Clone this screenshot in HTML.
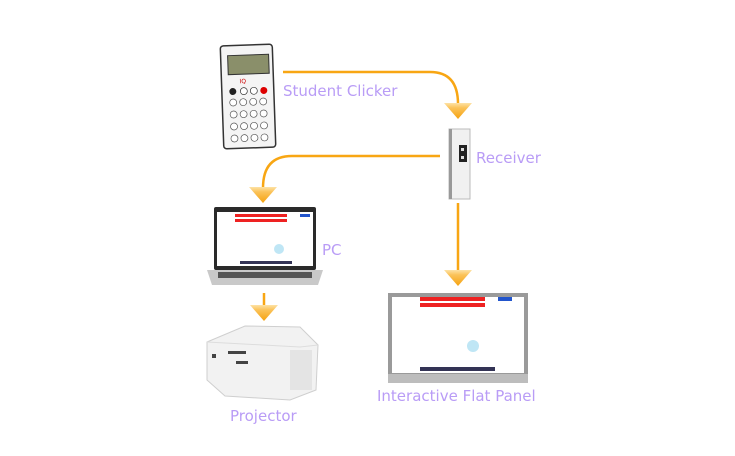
<!DOCTYPE html>
<html><head><meta charset="utf-8"><style>
html,body{margin:0;padding:0;background:#fff;}
svg{display:block}
text{font-family:"DejaVu Sans","Liberation Sans",sans-serif;fill:#b99cf6;font-size:15px;}
</style></head><body>
<svg width="735" height="456" viewBox="0 0 735 456" xmlns="http://www.w3.org/2000/svg">
<defs>
<linearGradient id="ah" x1="0" y1="0" x2="0" y2="1">
<stop offset="0" stop-color="#fde2a6"/><stop offset="0.3" stop-color="#fbc35a"/><stop offset="1" stop-color="#f5a20f"/>
</linearGradient>
<symbol id="arr" viewBox="0 0 28 16"><polygon points="0,0 28,0 14,16" fill="url(#ah)"/></symbol>
</defs>
<g fill="none" stroke="#f8a613" stroke-width="2.5">
<path d="M283,72 H430 Q458,72 458,104"/>
<path d="M440,156 H292 Q263,156 263,188"/>
<path d="M264,293 V306"/>
<path d="M458,203 V272"/>
</g>
<use href="#arr" x="444" y="103" width="28" height="16"/>
<use href="#arr" x="249" y="187" width="28" height="16"/>
<use href="#arr" x="250" y="305" width="28" height="16"/>
<use href="#arr" x="444" y="270" width="28" height="16"/>
<g transform="rotate(-2 248 96)">
<rect x="222" y="45" width="52" height="103" rx="3" fill="#f4f4f4" stroke="#333" stroke-width="1.5"/>
<rect x="229" y="55" width="41" height="19" fill="#8a8f6a" stroke="#333"/>
<text x="240" y="83" style="font-size:6px;fill:#c00">IQ</text>
<circle cx="233" cy="91" r="3.5" fill="#222"/><circle cx="264" cy="91" r="3.5" fill="#d00"/>
<circle cx="244" cy="91" r="3.5" fill="#fff" stroke="#333" stroke-width=".7"/><circle cx="254" cy="91" r="3.5" fill="#fff" stroke="#333" stroke-width=".7"/>
<g fill="#fff" stroke="#555" stroke-width=".7">
<circle cx="233" cy="102" r="3.5"/><circle cx="243" cy="102" r="3.5"/><circle cx="253" cy="102" r="3.5"/><circle cx="263" cy="102" r="3.5"/>
<circle cx="233" cy="114" r="3.5"/><circle cx="243" cy="114" r="3.5"/><circle cx="253" cy="114" r="3.5"/><circle cx="263" cy="114" r="3.5"/>
<circle cx="233" cy="126" r="3.5"/><circle cx="243" cy="126" r="3.5"/><circle cx="253" cy="126" r="3.5"/><circle cx="263" cy="126" r="3.5"/>
<circle cx="233" cy="138" r="3.5"/><circle cx="243" cy="138" r="3.5"/><circle cx="253" cy="138" r="3.5"/><circle cx="263" cy="138" r="3.5"/>
</g></g>
<rect x="449" y="129" width="21" height="70" fill="#f1f1f1" stroke="#bbb"/>
<rect x="449" y="129" width="3" height="70" fill="#999"/>
<rect x="459" y="145" width="8" height="17" fill="#222"/>
<rect x="461" y="148" width="3" height="3" fill="#ddd"/><rect x="461" y="156" width="3" height="3" fill="#ddd"/>
<rect x="214" y="207" width="102" height="63" rx="2" fill="#2a2a2a"/>
<rect x="217" y="212" width="96" height="54" fill="#fff"/>
<rect x="235" y="214" width="52" height="3" fill="#e22"/><rect x="235" y="219" width="52" height="3" fill="#e22"/>
<rect x="300" y="214" width="10" height="3" fill="#2255cc"/>
<circle cx="279" cy="249" r="5" fill="#bfe6f5"/>
<rect x="240" y="261" width="52" height="3" fill="#335"/>
<path d="M207,270 H323 L318,285 H212 Z" fill="#c9c9c9"/>
<rect x="218" y="272" width="94" height="6" fill="#555"/>
<path d="M207,342 L245,326 L300,327 L318,345 L316,390 L290,400 L225,396 L207,380 Z" fill="#f2f2f2" stroke="#cfcfcf"/>
<path d="M207,342 L300,347 L318,345" fill="none" stroke="#ddd"/>
<rect x="290" y="350" width="22" height="40" fill="#e4e4e4"/>
<rect x="236" y="361" width="12" height="3" fill="#444"/><rect x="228" y="351" width="18" height="3" fill="#444"/>
<rect x="212" y="354" width="4" height="4" fill="#444"/>
<rect x="388" y="293" width="140" height="90" fill="#9a9a9a"/>
<rect x="392" y="297" width="132" height="76" fill="#fff"/>
<rect x="420" y="297" width="65" height="4" fill="#e22"/><rect x="420" y="303" width="65" height="4" fill="#e22"/>
<rect x="498" y="297" width="14" height="4" fill="#2255cc"/>
<circle cx="473" cy="346" r="6" fill="#bfe6f5"/>
<rect x="420" y="367" width="75" height="4" fill="#335"/>
<rect x="388" y="374" width="140" height="9" fill="#bdbdbd"/>
<text x="283" y="96">Student Clicker</text>
<text x="476" y="163">Receiver</text>
<text x="322" y="255">PC</text>
<text x="230" y="421">Projector</text>
<text x="377" y="401">Interactive Flat Panel</text>
</svg>
</body></html>
